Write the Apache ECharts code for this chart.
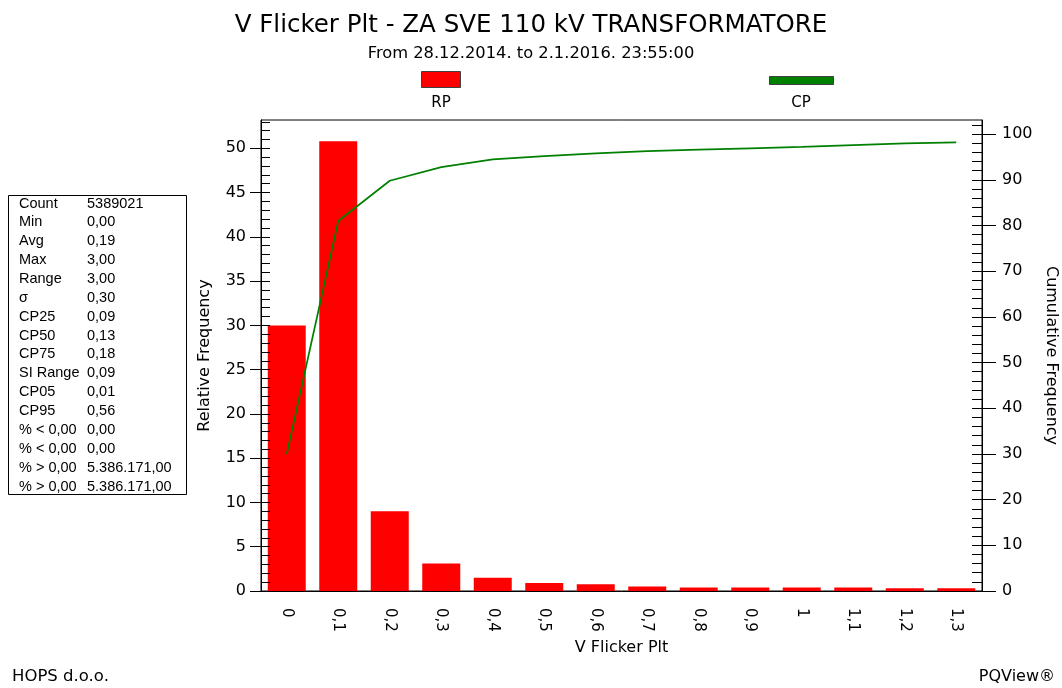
<!DOCTYPE html>
<html>
<head>
<meta charset="utf-8">
<script src="https://cdn.jsdelivr.net/npm/echarts@6/dist/echarts.min.js"></script>
<style>
html,body{margin:0;padding:0;background:#fff;}
#chart{width:1062px;height:688px;}
</style>
</head>
<body>
<div id="chart"></div>
<script>
// ---- data ----
const categories = ['0','0,1','0,2','0,3','0,4','0,5','0,6','0,7','0,8','0,9','1','1,1','1,2','1,3'];
const rpValues = [30.0, 50.8, 9.0, 3.1, 1.5, 0.9, 0.75, 0.5, 0.4, 0.4, 0.4, 0.4, 0.3, 0.3];
const cpValues = [30.0, 81.0, 89.8, 92.8, 94.5, 95.2, 95.8, 96.3, 96.6, 96.9, 97.2, 97.6, 98.0, 98.2];
const leftTicks = [0,5,10,15,20,25,30,35,40,45,50];
const rightTicks = [0,10,20,30,40,50,60,70,80,90,100];
const statLabels = ['Count','Min','Avg','Max','Range','\u03c3','CP25','CP50','CP75','SI Range','CP05','CP95','% < 0,00','% < 0,00','% > 0,00','% > 0,00'];
const statValues = ['5389021','0,00','0,19','3,00','3,00','0,30','0,09','0,13','0,18','0,09','0,01','0,56','0,00','0,00','5.386.171,00','5.386.171,00'];
const leftMax = 53.2, rightMax = 103.1;

const leftMinor = []; for (let v = 0; v <= 53; v += 1) leftMinor.push(v);
const rightMinor = []; for (let v = 0; v <= 102; v += 2) rightMinor.push(v);

const FONT = 'DejaVu Sans';
const chart = echarts.init(document.getElementById('chart'), null, {renderer:'canvas'});

const statsGraphics = [];
statsGraphics.push({type:'rect', shape:{x:8.5,y:195.5,width:178,height:299}, style:{fill:'#fff',stroke:'#000',lineWidth:1}});
statLabels.forEach((l,i)=>{
  const y = 203.5 + i*18.87;
  statsGraphics.push({type:'text', x:19, y:y, style:{text:l, font:'14.5px "Liberation Sans"', fill:'#000', textVerticalAlign:'middle', textAlign:'left'}});
  statsGraphics.push({type:'text', x:87, y:y, style:{text:statValues[i], font:'14.5px "Liberation Sans"', fill:'#000', textVerticalAlign:'middle', textAlign:'left'}});
});

const legendGraphics = [
  {type:'rect', shape:{x:421.5,y:71.5,width:39,height:16}, style:{fill:'#ff0000',stroke:'#404040',lineWidth:1}},
  {type:'text', x:441, y:103, style:{text:'RP', font:'15px "DejaVu Sans"', fill:'#000', textAlign:'center', textVerticalAlign:'middle'}},
  {type:'rect', shape:{x:769.5,y:76.5,width:64,height:8}, style:{fill:'#008000',stroke:'#404040',lineWidth:1}},
  {type:'text', x:801, y:103, style:{text:'CP', font:'15px "DejaVu Sans"', fill:'#000', textAlign:'center', textVerticalAlign:'middle'}},
  {type:'text', x:12, y:677, style:{text:'HOPS d.o.o.', font:'16.5px "DejaVu Sans"', fill:'#000', textAlign:'left', textVerticalAlign:'middle'}},
  {type:'text', x:1055, y:677, style:{text:'PQView\u00ae', font:'16px "DejaVu Sans"', fill:'#000', textAlign:'right', textVerticalAlign:'middle'}}
];

const blk = {color:'#000', width:1};
const option = {
  animation:false,
  backgroundColor:'#fff',
  textStyle:{fontFamily:FONT},
  title:{
    text:'V Flicker Plt - ZA SVE 110 kV TRANSFORMATORE',
    subtext:'From 28.12.2014. to 2.1.2016. 23:55:00',
    left:'center', top:8, itemGap:8,
    textStyle:{fontFamily:FONT, fontSize:24.5, fontWeight:'normal', color:'#000'},
    subtextStyle:{fontFamily:FONT, fontSize:16.3, color:'#000'}
  },
  grid:{left:261, right:80, top:120, bottom:97, show:true, borderColor:'#000', borderWidth:1,
        backgroundColor:'transparent', containLabel:false, outerBoundsMode:'none'},
  xAxis:[
    {type:'category', data:categories, position:'bottom', z:10,
     name:'V Flicker Plt', nameLocation:'middle', nameGap:48,
     nameTextStyle:{fontFamily:FONT, fontSize:16, color:'#000'},
     axisLine:{lineStyle:blk},
     axisTick:{alignWithLabel:true, length:13, lineStyle:blk},
     axisLabel:{rotate:-90, fontFamily:FONT, fontSize:15, color:'#000', margin:17},
     splitLine:{show:false}},
    {type:'category', data:categories, position:'bottom', z:10,
     axisLine:{show:false},
     axisTick:{alignWithLabel:true, inside:true, length:11, lineStyle:blk},
     axisLabel:{show:false}, splitLine:{show:false}}
  ],
  yAxis:[
    {type:'value', position:'left', min:0, max:leftMax, z:10,
     name:'Relative Frequency', nameLocation:'middle', nameGap:48, nameRotate:90,
     nameTextStyle:{fontFamily:FONT, fontSize:16, color:'#000'},
     axisLine:{show:true, lineStyle:blk},
     axisTick:{show:true, length:11, lineStyle:blk, customValues:leftTicks},
     axisLabel:{fontFamily:FONT, fontSize:16, color:'#000', margin:15, customValues:leftTicks},
     splitLine:{show:false}},
    {type:'value', position:'right', min:0, max:rightMax, z:10,
     name:'Cumulative Frequency', nameLocation:'middle', nameGap:60, nameRotate:-90,
     nameTextStyle:{fontFamily:FONT, fontSize:16, color:'#000'},
     axisLine:{show:true, lineStyle:blk},
     axisTick:{show:true, length:14, lineStyle:blk, customValues:rightTicks},
     axisLabel:{fontFamily:FONT, fontSize:16, color:'#000', margin:20, customValues:rightTicks},
     splitLine:{show:false}},
    {type:'value', position:'left', min:0, max:leftMax, z:10,
     axisLine:{show:false}, axisTick:{show:true, inside:true, length:9, lineStyle:blk, customValues:leftMinor},
     axisLabel:{show:false}, splitLine:{show:false}},
    {type:'value', position:'right', min:0, max:rightMax, z:10,
     axisLine:{show:false}, axisTick:{show:true, inside:true, length:10, lineStyle:blk, customValues:rightMinor},
     axisLabel:{show:false}, splitLine:{show:false}}
  ],
  series:[
    {name:'RP', type:'bar', data:rpValues, xAxisIndex:0, yAxisIndex:0, barWidth:38,
     itemStyle:{color:'#ff0000'}},
    {name:'CP', type:'line', data:cpValues, xAxisIndex:0, yAxisIndex:1, symbol:'none',
     lineStyle:{color:'#008000', width:1.7}, z:5}
  ],
  graphic:[...statsGraphics, ...legendGraphics]
};
chart.setOption(option);
</script>
</body>
</html>
